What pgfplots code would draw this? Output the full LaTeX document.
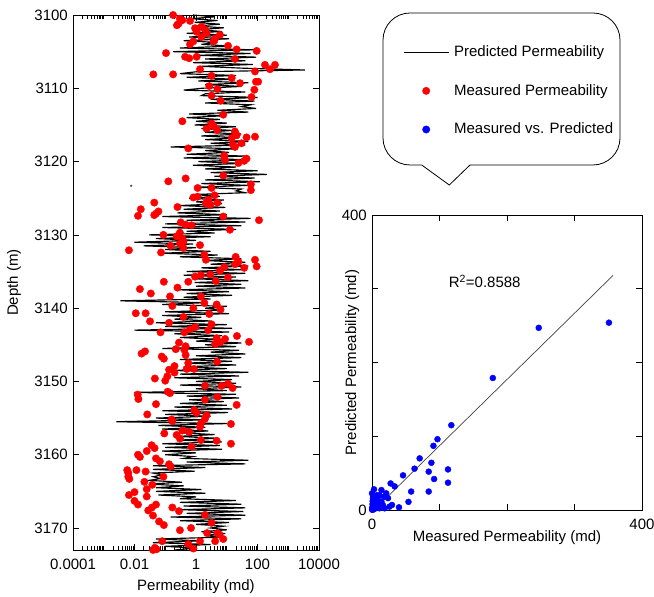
\documentclass[border=0pt]{standalone}
\usepackage{fontspec}
\setmainfont{Liberation Sans}
\usepackage{pgfplots}
\pgfplotsset{compat=1.18}
\usepackage{pgfplotstable}

\pgfplotstableread{
k d
0.8 3100.00
4 3100.25
0.7 3100.50
5 3100.75
0.9 3101.00
6 3101.25
1.0 3101.50
8 3101.75
1.2 3102.00
7 3102.25
0.5 3102.50
10 3102.75
0.6 3103.00
12 3103.25
0.4 3103.50
5 3103.75
1.5 3104.00
14 3104.25
0.3 3104.50
80 3104.75
0.18 3105.00
60 3105.25
1.2 3105.50
90 3105.75
2 3106.00
40 3106.25
0.8 3106.50
70 3106.75
1.5 3107.00
30 3107.25
3500 3107.50
1 3107.75
0.3 3108.00
20 3108.25
0.5 3108.50
15 3108.75
1.2 3109.00
50 3109.25
2 3109.50
30 3109.75
1.5 3110.00
0.4 3110.25
40 3110.50
2 3110.75
1.5 3111.00
100 3111.25
3 3111.50
80 3111.75
2 3112.00
60 3112.25
30 3112.50
90 3112.75
5 3113.00
50 3113.25
0.6 3113.50
8 3113.75
0.5 3114.00
6 3114.25
1 3114.50
10 3114.75
0.9 3115.00
20 3115.25
1.5 3115.50
15 3115.75
2 3116.00
30 3116.25
1.5 3116.50
25 3116.75
2 3117.00
50 3117.25
3 3117.50
40 3117.75
0.15 3118.00
20 3118.25
2 3118.50
12 3118.75
0.5 3119.00
40 3119.25
0.4 3119.50
50 3119.75
1.2 3120.00
30 3120.25
0.8 3120.50
20 3120.75
2 3121.00
100 3121.25
3 3121.50
200 3121.75
4 3122.00
80 3122.25
2 3122.50
120 3122.75
1.5 3123.00
50 3123.25
1 3123.50
30 3123.75
20 3124.00
40 3124.25
0.8 3124.50
6 3124.75
0.6 3125.00
8 3125.25
1 3125.50
7 3125.75
0.3 3126.00
9 3126.25
0.4 3126.50
6 3126.75
0.25 3127.00
10 3127.25
0.08 3127.50
60 3127.75
0.5 3128.00
40 3128.25
0.1 3128.50
30 3128.75
0.08 3129.00
20 3129.25
0.5 3129.50
4 3129.75
0.03 3130.00
3 3130.25
0.05 3130.50
1 3130.75
0.01 3131.00
0.8 3131.25
0.02 3131.50
1 3131.75
0.1 3132.00
3 3132.25
0.08 3132.50
5 3132.75
0.3 3133.00
30 3133.25
2 3133.50
40 3133.75
3 3134.00
50 3134.25
1.5 3134.50
30 3134.75
0.5 3135.00
40 3135.25
0.4 3135.50
20 3135.75
1 3136.00
50 3136.25
0.9 3136.50
30 3136.75
1 3137.00
40 3137.25
0.3 3137.50
12 3137.75
0.5 3138.00
15 3138.25
0.4 3138.50
3 3138.75
0.0035 3139.00
2 3139.25
0.08 3139.50
10 3139.75
2 3140.00
8 3140.25
0.1 3140.50
12 3140.75
0.08 3141.00
1.5 3141.25
0.2 3141.50
3 3141.75
0.05 3142.00
10 3142.25
0.1 3142.50
15 3142.75
0.01 3143.00
12 3143.25
0.2 3143.50
7 3143.75
0.3 3144.00
5 3144.25
1 3144.50
30 3144.75
2 3145.00
20 3145.25
0.08 3145.50
25 3145.75
3 3146.00
40 3146.25
1 3146.50
30 3146.75
0.3 3147.00
15 3147.25
0.5 3147.50
20 3147.75
0.4 3148.00
10 3148.25
0.15 3148.50
50 3148.75
0.3 3149.00
25 3149.25
0.2 3149.50
15 3149.75
1 3150.00
20 3150.25
0.3 3150.50
30 3150.75
1 3151.00
10 3151.25
0.01 3151.50
20 3151.75
0.5 3152.00
25 3152.25
0.6 3152.50
8 3152.75
0.3 3153.00
10 3153.25
0.2 3153.50
15 3153.75
0.08 3154.00
11 3154.25
0.1 3154.50
3 3154.75
0.05 3155.00
2 3155.25
0.0026 3155.50
10 3155.75
0.06 3156.00
2 3156.25
0.08 3156.50
2.5 3156.75
0.3 3157.00
4 3157.25
0.25 3157.50
5 3157.75
0.3 3158.00
7 3158.25
0.08 3158.50
6 3158.75
0.1 3159.00
7 3159.25
0.08 3159.50
1 3159.75
0.1 3160.00
0.8 3160.25
0.4 3160.50
50 3160.75
0.5 3161.00
40 3161.25
0.04 3161.50
2 3161.75
0.04 3162.00
0.9 3162.25
0.04 3162.50
0.08 3162.75
0.04 3163.00
0.07 3163.25
0.03 3163.50
0.35 3163.75
0.03 3164.00
0.4 3164.25
0.05 3164.50
1.5 3164.75
0.05 3165.00
2 3165.25
0.06 3165.50
1 3165.75
0.3 3166.00
20 3166.25
0.3 3166.50
30 3166.75
0.4 3167.00
40 3167.25
0.3 3167.50
35 3167.75
0.5 3168.00
40 3168.25
0.15 3168.50
30 3168.75
0.3 3169.00
12 3169.25
1 3169.50
8 3169.75
3 3170.00
10 3170.25
1.5 3170.50
9 3170.75
2 3171.00
7 3171.25
0.05 3171.50
1.5 3171.75
0.04 3172.00
3 3172.25
0.1 3172.50
1 3172.75
0.2 3173.00
}\blackline

\pgfplotstableread{
k d
0.18 3100.0
0.30 3100.5
0.36 3100.7
0.27 3101.2
0.24 3101.4
0.64 3100.8
0.93 3101.8
1.5 3101.6
2.0 3102.0
1.05 3102.3
2.2 3102.5
1.5 3103.0
6.0 3102.7
4.2 3103.2
3.7 3103.6
0.82 3103.6
0.64 3104.0
11 3104.2
21 3104.7
94 3104.9
0.106 3105.2
0.44 3105.7
0.60 3105.9
1.05 3105.7
18.5 3106.0
175 3106.8
255 3107.4
370 3106.8
1.35 3107.4
83 3107.7
0.041 3108.1
0.18 3108.1
3.2 3108.3
14.5 3108.6
89 3109.1
105 3109.1
27 3109.3
2.7 3109.7
79 3110.2
5.0 3110.1
3.2 3111.0
6.3 3111.7
64 3111.2
7.7 3113.6
0.36 3114.5
3.2 3114.8
3.8 3115.2
4.9 3115.7
2.2 3115.5
18.5 3115.9
21 3116.4
83 3116.6
14.5 3116.8
44 3116.7
30 3117.5
16 3117.7
0.56 3118.2
18.5 3118.0
8.3 3119.2
8.8 3119.8
44 3119.6
37 3119.9
24 3120.2
7.7 3121.9
0.126 3122.7
0.46 3122.3
61 3123.1
61 3123.9
1.13 3123.6
3.2 3123.6
4.0 3124.6
0.82 3124.9
1.13 3124.8
2.5 3125.2
2.1 3125.7
2.9 3125.9
5.0 3125.6
0.044 3125.6
0.25 3126.2
0.016 3126.5
0.013 3127.4
0.05 3127.1
0.06 3126.8
0.044 3127.3
7.7 3127.5
112 3128.0
0.32 3128.3
0.46 3128.6
0.72 3128.7
12.7 3129.3
0.087 3130.0
0.235 3130.2
0.30 3129.7
0.36 3130.5
0.39 3130.9
0.30 3131.2
0.15 3131.5
1.35 3131.4
0.39 3131.8
0.0066 3132.1
0.073 3132.4
1.87 3132.7
2.1 3133.4
19.5 3133.0
83 3133.4
24 3133.7
18.5 3134.0
94 3134.3
37 3134.5
8.3 3134.4
6.0 3134.9
2.9 3135.4
0.93 3135.7
1.45 3135.5
11 3135.8
0.09 3136.4
0.56 3136.4
4.4 3136.3
0.015 3137.4
0.034 3138.0
0.25 3137.2
0.143 3138.4
1.45 3138.4
1.87 3139.3
4.7 3139.5
6.3 3140.2
0.17 3139.7
0.011 3140.7
0.023 3140.7
0.82 3140.0
2.7 3140.8
0.39 3141.2
0.032 3141.8
0.133 3142.0
3.2 3142.2
0.93 3142.6
0.64 3142.9
0.42 3143.3
2.5 3143.0
0.07 3143.3
21.5 3143.8
53 3144.6
8.8 3144.2
4.7 3144.1
6.0 3144.7
4.2 3144.9
0.28 3144.7
0.46 3145.2
0.42 3145.7
0.22 3145.6
0.022 3145.9
0.017 3146.2
0.46 3146.4
0.077 3146.6
0.09 3146.9
4.9 3147.3
0.56 3147.5
0.20 3147.9
0.133 3148.4
0.50 3148.3
0.86 3148.3
0.20 3148.8
0.117 3149.3
0.046 3149.6
0.10 3149.9
1.96 3150.6
6.8 3150.6
11 3150.3
15.5 3150.9
0.12 3151.4
0.143 3151.6
0.0127 3151.8
0.0134 3152.4
1.96 3152.5
5.0 3152.1
0.05 3153.1
21 3153.2
0.88 3153.9
1.05 3154.3
2.2 3154.6
0.026 3154.5
0.16 3155.2
0.17 3155.4
1.96 3155.1
1.45 3155.7
13.7 3155.8
1.35 3156.2
0.093 3157.1
0.235 3157.3
0.36 3156.7
0.60 3156.9
0.30 3157.8
1.45 3158.0
4.7 3158.1
13.7 3158.5
0.72 3158.9
0.036 3158.7
0.045 3159.1
0.025 3159.5
0.013 3160.0
0.015 3160.3
0.05 3160.5
0.067 3160.9
0.133 3161.3
0.15 3161.6
0.0058 3162.1
0.0063 3162.5
0.0116 3162.1
0.023 3162.3
0.0063 3163.0
0.0068 3163.3
0.087 3163.0
0.021 3163.7
0.038 3164.1
0.025 3164.7
0.0066 3165.5
0.010 3165.1
0.025 3165.7
0.010 3166.3
0.013 3166.8
0.05 3166.8
0.037 3167.2
0.028 3167.6
0.17 3167.2
0.28 3167.7
0.04 3168.3
1.96 3168.2
3.2 3169.3
0.063 3169.1
0.09 3169.6
0.30 3170.3
0.69 3170.0
2.3 3170.7
5.0 3170.7
5.8 3170.9
7.7 3171.5
4.2 3171.8
1.35 3171.8
0.08 3171.8
0.56 3172.2
0.82 3172.8
0.046 3172.7
0.04 3173.0
0.052 3172.9
}\redpts

\pgfplotstableread{
m p
351 254
247 247
179 179
117.5 115
97 96
91 87
70.6 70
88 64
63 56
84 52
112.6 55
46 47
92 42
112.6 37
58 25
84 25
54 11
40 3.6
27.6 36
33.6 32
3 28
14 27
21 22.6
23.7 16
17.8 18
11 20
9 13.6
26 4.5
16 6.8
6.4 11
1.5 16
1.5 6.8
4 2.3
11 2.3
18.8 2.3
0 22.6
3 4.5
14 11
8 18
29.6 6.8
0.5 1
1 0.5
2 2
0.2 3
3 1
1.5 4
5 5
0.8 8
2.5 10
6 3
8 7
10 9
12 5
4 14
7 20
2 18
0.3 0.3
1 12
}\bluepts

\begin{document}
\fontsize{15}{17}\selectfont
\begin{tikzpicture}[x=1pt,y=1pt]
\useasboundingbox (0,0) rectangle (654,597);
\pgfplotsset{
  every axis/.append style={
    font=\fontsize{15}{17}\selectfont,
    scale only axis,
    tick align=inside,
    axis line style={line width=0.8pt},
    every tick/.style={black, line width=0.6pt},
    major tick length=6pt,
    minor tick length=3.5pt,
    clip=false,
    xticklabel style={yshift=-4pt},
  }
}
% left log panel
\begin{axis}[
  at={(196pt,314.5pt)}, anchor=center,
  width=246pt, height=535pt,
  xmode=log, xmin=1e-4, xmax=1e4,
  ymin=3100, ymax=3173, y dir=reverse,
  xtick={1e-4,1e-2,1,1e2,1e4},
  xticklabels={0.0001,0.01,1,100,10000},
  minor xtick={2e-4,3e-4,4e-4,5e-4,6e-4,7e-4,8e-4,9e-4,1e-3,2e-3,3e-3,4e-3,5e-3,6e-3,7e-3,8e-3,9e-3,
    2e-2,3e-2,4e-2,5e-2,6e-2,7e-2,8e-2,9e-2,1e-1,2e-1,3e-1,4e-1,5e-1,6e-1,7e-1,8e-1,9e-1,
    2,3,4,5,6,7,8,9,10,20,30,40,50,60,70,80,90,
    200,300,400,500,600,700,800,900,1000,2000,3000,4000,5000,6000,7000,8000,9000},
  ytick={3100,3110,3120,3130,3140,3150,3160,3170},
  yticklabels={3100,3110,3120,3130,3140,3150,3160,3170},
  xlabel={Permeability (md)},
  ylabel={Depth (m)},
  every axis x label/.style={at={(axis description cs:0.5,0)}, anchor=north, yshift=-24pt},
  every axis y label/.style={at={(axis description cs:-0.19,0.5)}, rotate=90, anchor=south},
]
\addplot[black, line width=1.15pt] table[x=k, y=d] {\blackline};
\addplot[only marks, mark=*, mark size=3.7pt, red, mark options={draw=red, fill=red}] table[x=k, y=d] {\redpts};
\addplot[only marks, mark=*, mark size=0.9pt, black!70] coordinates {(0.0078,3123.3)};
\end{axis}
% right scatter panel
\begin{axis}[
  at={(507pt,234.5pt)}, anchor=center,
  width=270pt, height=295pt,
  xmin=0, xmax=400, ymin=0, ymax=400,
  xtick={0,100,200,300,400}, xticklabels={0,,,,400},
  ytick={0,100,200,300,400}, yticklabels={0,,,,400},
  xlabel={Measured Permeability (md)},
  ylabel={Predicted Permeability (md)},
  every axis x label/.style={at={(axis description cs:0.5,0)}, anchor=north, yshift=-15pt},
  every axis y label/.style={at={(axis description cs:-0.028,0.5)}, rotate=90, anchor=south},
  legend style={draw=none, fill=none, at={(axis description cs:0.115,1.578)}, anchor=north west,
    inner sep=0pt, row sep=23.5pt, column sep=4pt, font=\fontsize{15}{17}\selectfont,
    nodes={inner sep=1pt}},
  legend cell align=left,
]
\addlegendimage{legend image code/.code={\draw[black, line width=0.9pt] (0pt,0pt) -- (45pt,0pt);}}
\addlegendentry{Predicted Permeability}
\addlegendimage{legend image code/.code={\draw[red, only marks, mark=*, mark size=3.7pt, mark options={fill=red}] plot coordinates {(22.5pt,0pt)};}}
\addlegendentry{Measured Permeability}
\addplot[only marks, mark=*, mark size=3pt, blue, mark options={draw=blue, fill=blue},
  legend image code/.code={\draw[blue, only marks, mark=*, mark size=3.7pt, mark options={fill=blue}] plot coordinates {(22.5pt,0pt)};}]
  table[x=m, y=p] {\bluepts};
\addlegendentry{Measured vs. Predicted}
\addplot[black!75, line width=0.7pt, forget plot] coordinates {(3,0) (357,318)};
\node[anchor=west] at (axis cs:106,310) {R\textsuperscript{2}=0.8588};
\end{axis}
% callout box around legend
\draw[line width=0.8pt, rounded corners=27pt] (421.7,432) -- (383,432) -- (383,584) -- (620,584) -- (620,432) -- (470,432);
\draw[line width=0.8pt] (421.7,432) -- (449.3,412) -- (470,432);
\end{tikzpicture}
\end{document}
